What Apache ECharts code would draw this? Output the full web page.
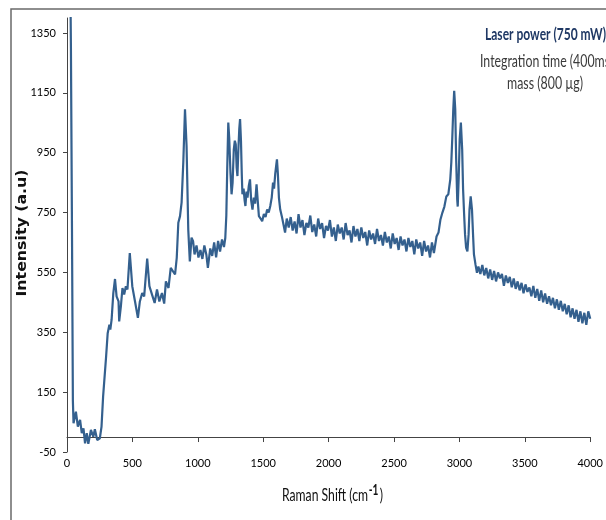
<!DOCTYPE html>
<html>
<head>
<meta charset="utf-8">
<script src="https://cdn.jsdelivr.net/npm/echarts@6/dist/echarts.min.js"></script>
<style>
  html, body { margin: 0; padding: 0; background: #fff; }
  #chart { width: 606px; height: 520px; }
</style>
</head>
<body>
<div id="chart"></div>
<script>
// ticks of the axes
var xTicks = [0, 500, 1000, 1500, 2000, 2500, 3000, 3500, 4000];
var yTicks = [-50, 150, 350, 550, 750, 950, 1150, 1350];

// spectrum, in pieces (Raman shift / intensity)
var lowShift = [20, 30, 38, 45, 50, 68, 83, 100, 113, 126, 138, 151, 163, 183, 201, 213, 231, 251, 264, 276,
  299, 311, 324, 331, 341, 354, 367, 379, 394, 399, 412, 424, 437, 450, 462, 480, 499, 520, 542, 557,
  575, 590, 613, 630, 650, 670, 688, 706, 726, 743, 756, 776, 793, 808, 826, 839, 851, 864, 876, 889,
  902, 914, 927, 939, 952, 964];
var lowIntensity = [1800, 1300, 700, 120, 46, 85, 35, 57, 13, 29, -21, 13, -23, 24, 1, 26, -10, -4, 35, 135,
  269, 347, 375, 359, 392, 481, 528, 470, 453, 386, 437, 498, 476, 504, 493, 615, 504, 453, 398, 453,
  481, 470, 596, 504, 476, 448, 493, 453, 481, 446, 520, 498, 565, 560, 543, 599, 716, 738, 783, 917,
  1095, 973, 693, 587, 666, 654];

var midShift = [975, 990, 1005, 1020, 1035, 1050, 1065, 1077, 1095, 1110, 1125, 1140, 1155, 1170, 1185, 1200, 1210, 1218, 1225, 1233,
  1240, 1250, 1258, 1266, 1275, 1283, 1290, 1297, 1303, 1310, 1317, 1323, 1330, 1336, 1341, 1350, 1358, 1364, 1372, 1380,
  1390, 1399, 1408, 1418, 1428, 1438, 1449, 1458, 1467, 1480, 1492, 1505, 1518, 1530, 1542, 1554, 1565, 1575, 1583, 1592,
  1600, 1605, 1612, 1620, 1630, 1642, 1655, 1667, 1680, 1695];
var midIntensity = [610, 640, 600, 625, 595, 640, 610, 565, 630, 605, 650, 600, 655, 620, 660, 635, 665, 740, 900, 1051,
  1000, 880, 811, 850, 960, 990, 978, 900, 872, 960, 1030, 1062, 990, 880, 811, 830, 790, 772, 820, 800,
  840, 861, 790, 760, 800, 780, 844, 790, 738, 730, 721, 745, 735, 760, 750, 772, 800, 850, 830, 880,
  910, 928, 880, 800, 760, 738, 710, 683, 730, 700];

var plateauShift = [1710, 1725, 1740, 1755, 1770, 1785, 1800, 1815, 1830, 1845,
  1860, 1875, 1890, 1905, 1920, 1935, 1950, 1965, 1980, 1995,
  2010, 2025, 2040, 2055, 2070, 2085, 2100, 2115, 2130, 2145,
  2160, 2175, 2190, 2205, 2220, 2235, 2250, 2265, 2280, 2295,
  2310, 2325, 2340, 2355, 2370, 2385, 2400, 2415, 2430, 2445,
  2460, 2475, 2490, 2505, 2520, 2535, 2550, 2565, 2580, 2595,
  2610, 2625, 2640, 2655, 2670, 2685, 2700, 2715, 2730, 2745,
  2760, 2775, 2790, 2805];
var plateauIntensity = [735, 690, 720, 680, 745, 700, 725, 675, 715, 700,
  740, 685, 710, 670, 730, 695, 715, 665, 705, 690,
  725, 670, 700, 655, 710, 680, 700, 660, 715, 675,
  690, 650, 705, 670, 695, 655, 700, 665, 685, 640,
  690, 660, 680, 645, 695, 655, 675, 640, 685, 650,
  670, 630, 680, 645, 665, 625, 670, 640, 660, 620,
  665, 635, 655, 610, 660, 630, 650, 605, 655, 620,
  640, 600, 650, 615];

var chShift = [2825, 2840, 2855, 2870, 2885, 2900, 2915, 2930, 2938, 2945,
  2953, 2960, 2968, 2975, 2983, 2987, 2994, 3002, 3011, 3021,
  3028, 3036, 3043, 3051, 3061, 3070, 3077, 3086, 3096, 3104,
  3111, 3123, 3134];
var chIntensity = [670, 683, 727, 750, 770, 804, 811, 861, 918, 995,
  1095, 1157, 1095, 928, 794, 770, 861, 995, 1051, 961,
  827, 743, 677, 633, 620, 677, 760, 804, 760, 677,
  610, 576, 549];

var tailShift = [3145, 3160, 3175, 3190, 3205, 3220, 3235, 3250, 3265, 3280,
  3295, 3310, 3325, 3340, 3355, 3370, 3385, 3400, 3415, 3430,
  3445, 3460, 3475, 3490, 3505, 3520, 3535, 3550, 3565, 3580,
  3595, 3610, 3625, 3640, 3655, 3670, 3685, 3700, 3715, 3730,
  3745, 3760, 3775, 3790, 3805, 3820, 3835, 3850, 3865, 3880,
  3895, 3910, 3925, 3940, 3955, 3970, 3985, 4000];
var tailIntensity = [570, 545, 575, 540, 565, 530, 560, 525, 555, 520,
  550, 530, 545, 505, 540, 515, 535, 500, 530, 495,
  520, 490, 515, 480, 510, 485, 500, 470, 505, 465,
  495, 455, 490, 450, 480, 445, 470, 440, 465, 430,
  460, 425, 455, 420, 445, 410, 440, 400, 430, 395,
  425, 385, 420, 380, 415, 375, 420, 395];

var labelFont = 'Lato, Roboto, sans-serif';

// ancho de un texto, para estrecharlo como la fuente original
var ctx = document.createElement('canvas').getContext('2d');
const textWidth = (str, font) => {
    ctx.font = font;
    return ctx.measureText(str).width;
};

// une las piezas del espectro en pares [x, y]
const buildData = () => {
    var shifts = [].concat(lowShift, midShift, plateauShift, chShift, tailShift);
    var values = [].concat(lowIntensity, midIntensity, plateauIntensity, chIntensity, tailIntensity);
    var datos = [];
    for (var i = 0; i < shifts.length; i++) {
        datos.push([shifts[i], values[i]]);
    }
    return datos;
};

// texto estrecho: se escala en x hasta el ancho medido en la imagen
const squeezed = (str, font, color, left, cy, width) => {
    var fontStr = font + ' ' + labelFont;
    return {
        type: 'text', silent: true,
        x: left, y: cy,
        scaleX: width / textWidth(str, fontStr),
        style: { text: str, fill: color, font: fontStr, textAlign: 'left', textVerticalAlign: 'middle' }
    };
};

const getOption = () => {
    var yName = 'Intensity (a.u)';
    var yFont = 'bold 14px "DejaVu Sans"';
    var xBase = 'Raman Shift (cm';
    var xFont = '18px ' + labelFont;
    var xScale = 86 / textWidth(xBase, xFont);

    return {
        animation: false,
        backgroundColor: '#fff',
        grid: { left: 67, right: 8, top: 18, bottom: 68 },
        graphic: [
            {
                type: 'rect', silent: true,
                shape: { x: 11, y: 9, width: 700, height: 600 },
                style: { fill: null, stroke: '#6a6a6a', lineWidth: 1.5 }
            },
            squeezed('Laser power (750 mW)', 'bold 17px', '#1f3864', 485, 35, 121),
            squeezed('Integration time (400ms)', '17px', '#3a3a3a', 480, 62, 133),
            squeezed('mass (800 µg)', '17px', '#3a3a3a', 507, 84, 76),
            {
                type: 'text', silent: true,
                x: 22, y: 233, rotation: Math.PI / 2,
                scaleX: 127 / textWidth(yName, yFont),
                style: { text: yName, fill: '#111', font: yFont, textAlign: 'center', textVerticalAlign: 'middle' }
            },
            {
                type: 'text', silent: true,
                x: 282, y: 495, scaleX: xScale,
                style: {
                    text: xBase + '{sup|-1}{par|)}',
                    fill: '#111', font: xFont, textAlign: 'left', textVerticalAlign: 'middle',
                    rich: {
                        sup: { fontFamily: labelFont, fontSize: 15, fontWeight: 'bold', fill: '#111', padding: [0, 2, 10, 1] },
                        par: { fontFamily: labelFont, fontSize: 18, fill: '#111' }
                    }
                }
            }
        ],
        xAxis: {
            type: 'value',
            min: 0, max: 4000,
            axisLine: { onZero: true, lineStyle: { color: '#444', width: 1 } },
            axisTick: { length: 5, lineStyle: { color: '#444' }, customValues: xTicks },
            axisLabel: {
                margin: 6, fontFamily: labelFont, fontSize: 11, color: '#000', customValues: xTicks,
                formatter: (v) => String(v)
            },
            splitLine: { show: false }
        },
        yAxis: {
            type: 'value',
            min: -50, max: 1400,
            axisLine: { show: true, onZero: false, lineStyle: { color: '#444', width: 1 } },
            axisTick: { show: true, length: 4, lineStyle: { color: '#444' }, customValues: yTicks },
            axisLabel: {
                margin: 11, fontFamily: labelFont, fontSize: 11, color: '#000', customValues: yTicks,
                formatter: (v) => String(v)
            },
            splitLine: { show: false }
        },
        series: [
            {
                type: 'line',
                data: buildData(),
                showSymbol: false,
                lineStyle: { color: '#34608e', width: 2.2 },
                clip: true
            }
        ]
    };
};

var chart = echarts.init(document.getElementById('chart'));
chart.setOption(getOption());
</script>
</body>
</html>
